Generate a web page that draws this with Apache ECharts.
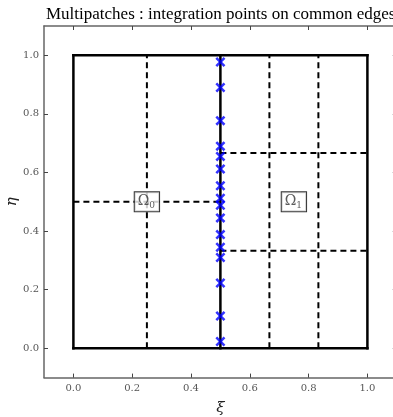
<!DOCTYPE html>
<html>
<head>
<meta charset="utf-8">
<script src="https://cdn.jsdelivr.net/npm/echarts@6/dist/echarts.min.js"></script>
<style>html,body{margin:0;padding:0;background:#fff}#c{width:393px;height:417px}</style>
</head>
<body>
<div id="c"></div>
<script>
// ---- data ----
const titleText = 'Multipatches : integration points on common edges';
const tickValues = [0, 0.2, 0.4, 0.6, 0.8, 1.0];
const axisMin = -0.1, axisMax = 1.1;
// solid patch boundaries (pairs of [xi, eta] endpoints)
const solidLines = [
  [[0, 0], [1, 0]], [[1, 0], [1, 1]], [[1, 1], [0, 1]], [[0, 1], [0, 0]],
  [[0.5, 0], [0.5, 1]]
];
// dashed knot lines inside patches
const dashedLines = [
  [[0.25, 0], [0.25, 1]], [[0, 0.5], [0.5, 0.5]],
  [[0.6667, 0], [0.6667, 1]], [[0.8333, 0], [0.8333, 1]],
  [[0.5, 0.3333], [1, 0.3333]], [[0.5, 0.6667], [1, 0.6667]]
];
// integration points on the common edge xi = 0.5
const pointXi = 0.5;
const pointEta = [0.023, 0.110, 0.223, 0.310, 0.345, 0.388, 0.445, 0.488,
                  0.512, 0.555, 0.612, 0.655, 0.690, 0.777, 0.890, 0.977];
// patch labels
const patchLabels = [{ name: '0', xi: 0.25, eta: 0.5 }, { name: '1', xi: 0.75, eta: 0.5 }];

// ---- chart ----
const chart = echarts.init(document.getElementById('c'), null, { renderer: 'canvas' });
const serif = 'DejaVu Serif';
const tserif = 'Liberation Serif';
const axisCol = '#666';
function mkAxis(pos, isX, main) {
  return {
    type: 'value', position: pos, min: axisMin, max: axisMax,
    gridIndex: 0,
    axisLine: { show: true, onZero: false, lineStyle: { color: axisCol, width: 1.5 } },
    axisTick: { show: true, inside: true, length: 4, customValues: tickValues, lineStyle: { color: '#444', width: 1 } },
    axisLabel: {
      show: main, customValues: tickValues, margin: isX ? 6 : 5,
      formatter: v => v.toFixed(1), color: '#555', fontFamily: serif, fontSize: 10
    },
    splitLine: { show: false },
    name: main ? (isX ? 'ξ' : 'η') : '',
    nameLocation: 'middle', nameGap: isX ? 23 : 24,
    nameMoveOverlap: false,
    nameRotate: isX ? 0 : 90,
    nameTextStyle: { fontFamily: serif, fontStyle: 'italic', fontSize: 15, color: '#222' }
  };
}
const series = [];
solidLines.forEach(seg => series.push({
  type: 'line', data: seg, symbol: 'none', silent: true, animation: false,
  lineStyle: { color: '#000', width: 2.5, cap: 'square' }, z: 3
}));
dashedLines.forEach(seg => series.push({
  type: 'line', data: seg, symbol: 'none', silent: true, animation: false,
  lineStyle: { color: '#000', width: 2, type: [6, 4] }, z: 2
}));
series.push({
  type: 'scatter', data: pointEta.map(e => [pointXi, e]), animation: false,
  symbol: 'path://M0,1.8 L1.8,0 L5,3.2 L8.2,0 L10,1.8 L6.8,5 L10,8.2 L8.2,10 L5,6.8 L1.8,10 L0,8.2 L3.2,5 Z',
  symbolSize: 10, itemStyle: { color: '#0000ff' }, z: 5
});
series.push({
  type: 'scatter', animation: false, symbolSize: 0, z: 6,
  data: patchLabels.map(p => ({ value: [p.xi, p.eta], name: p.name })),
  label: {
    show: true, position: 'inside',
    formatter: p => '{o|Ω}{s|' + p.name + '}',
    backgroundColor: '#fff', borderColor: '#000', borderWidth: 1,
    padding: [1, 4, 1, 3],
    rich: {
      o: { fontFamily: serif, fontSize: 14, color: '#333', lineHeight: 17 },
      s: { fontFamily: serif, fontSize: 9, color: '#333', lineHeight: 17, verticalAlign: 'bottom' }
    }
  }
});
chart.setOption({
  animation: false,
  backgroundColor: '#fff',
  title: {
    text: titleText, left: 46, top: 6, padding: 0,
    textStyle: { fontFamily: tserif, fontWeight: 'normal', fontSize: 17, color: '#000' }
  },
  grid: { left: 44, top: 26, width: 352.8, height: 351.6, containLabel: false, outerBoundsMode: 'none' },
  xAxis: [mkAxis('bottom', true, true), mkAxis('top', true, false)],
  yAxis: [mkAxis('left', false, true), mkAxis('right', false, false)],
  series: series
});
</script>
</body>
</html>
